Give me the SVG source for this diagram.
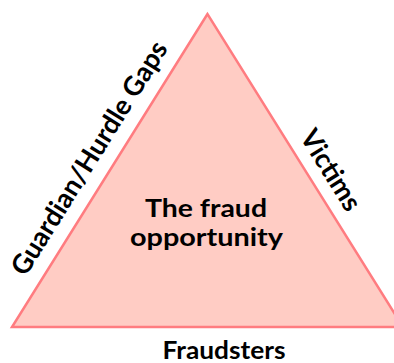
<svg xmlns="http://www.w3.org/2000/svg" width="394" height="363" viewBox="0 0 394 363">
<style>
.lbl{font-family:Lato,"Open Sans","Liberation Sans",sans-serif;font-weight:bold;fill:#000;text-anchor:middle}
.tri{fill:#FFCCC4;stroke:#FF7C80;stroke-width:2.5;stroke-linejoin:miter}
</style>
<rect width="394" height="363" fill="#fff"/>
<g id="triangle">
<polygon class="tri" points="207.5,14 12,327 403,327"/>
<text class="lbl" font-size="25"><tspan x="206" y="217" textLength="122" lengthAdjust="spacingAndGlyphs">The fraud</tspan><tspan x="206.5" y="246" textLength="153" lengthAdjust="spacingAndGlyphs">opportunity</tspan></text>
</g>
<g id="guardian">
<text class="lbl" font-size="27" transform="translate(97,163) rotate(-58)" textLength="270" lengthAdjust="spacingAndGlyphs">Guardian/Hurdle Gaps</text>
</g>
<g id="victims">
<text class="lbl" font-size="27" transform="translate(323,175) rotate(58)" textLength="90" lengthAdjust="spacingAndGlyphs">Victims</text>
</g>
<g id="fraudsters">
<text class="lbl" x="224" y="359" font-size="24" textLength="123" lengthAdjust="spacingAndGlyphs">Fraudsters</text>
</g>
</svg>
